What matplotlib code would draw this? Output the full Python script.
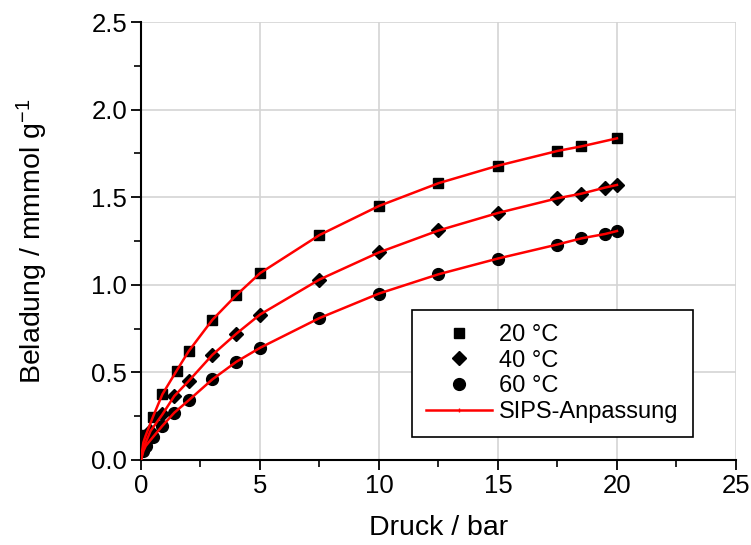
import matplotlib
matplotlib.use("Agg")
import matplotlib.pyplot as plt
from matplotlib.lines import Line2D
from matplotlib.ticker import MultipleLocator

plt.rcParams['font.family'] = ['Liberation Sans', 'DejaVu Sans']
plt.rcParams['mathtext.default'] = 'regular'

# Data
p20 = [0.1, 0.2, 0.5, 0.9, 1.5, 2.0, 3.0, 4.0, 5.0, 7.5, 10.0, 12.5, 15.0, 17.5, 18.5, 20.0]
q20 = [0.10, 0.14, 0.245, 0.375, 0.51, 0.62, 0.80, 0.94, 1.066, 1.284, 1.45, 1.58, 1.68, 1.764, 1.79, 1.836]

p40 = [0.1, 0.2, 0.4, 0.9, 1.4, 2.0, 3.0, 4.0, 5.0, 7.5, 10.0, 12.5, 15.0, 17.5, 18.5, 19.5, 20.0]
q40 = [0.07, 0.10, 0.165, 0.26, 0.365, 0.45, 0.60, 0.72, 0.83, 1.03, 1.185, 1.31, 1.41, 1.494, 1.52, 1.555, 1.57]

p60 = [0.1, 0.2, 0.5, 0.9, 1.4, 2.0, 3.0, 4.0, 5.0, 7.5, 10.0, 12.5, 15.0, 17.5, 18.5, 19.5, 20.0]
q60 = [0.05, 0.08, 0.13, 0.195, 0.27, 0.34, 0.46, 0.56, 0.64, 0.81, 0.95, 1.06, 1.15, 1.23, 1.265, 1.29, 1.307]

series_labels = ['20 °C', '40 °C', '60 °C']
fit_label = 'SIPS-Anpassung'

fig = plt.figure(figsize=(7.51, 5.45), dpi=100)
ax = fig.add_axes([0.1877, 0.156, 0.7923, 0.8036])

fs = 18.5
lfs = 20.5
for p, q in [(p20, q20), (p40, q40), (p60, q60)]:
    ax.plot([0.0] + p, [0.0] + q, color='#ff0000', lw=1.8, zorder=3)

ax.plot(p20, q20, ls='none', marker='s', ms=7.5, color='black', zorder=2)
ax.plot(p40, q40, ls='none', marker='D', ms=7.5, color='black', zorder=2)
ax.plot(p60, q60, ls='none', marker='o', ms=8.5, color='black', zorder=2)

ax.set_xlim(0, 25)
ax.set_ylim(0, 2.5)
ax.xaxis.set_major_locator(MultipleLocator(5))
ax.xaxis.set_minor_locator(MultipleLocator(2.5))
ax.yaxis.set_major_locator(MultipleLocator(0.5))
ax.yaxis.set_minor_locator(MultipleLocator(0.25))
ax.grid(True, which='major', color='#d4d4d4', lw=1.2, zorder=0)
ax.set_axisbelow(True)

for s in ['top', 'right']:
    ax.spines[s].set_visible(False)
for s in ['left', 'bottom']:
    ax.spines[s].set_linewidth(1.5)

ax.tick_params(which='major', direction='out', length=7, width=1.3, labelsize=fs, pad=3)
ax.tick_params(which='minor', direction='out', length=5, width=1.2)

ax.set_xlabel('Druck / bar', fontsize=lfs, labelpad=12)
ax.set_ylabel('Beladung / mmmol g$^{-1}$', fontsize=lfs, labelpad=30)

handles = [
    Line2D([], [], ls='none', marker='s', ms=7.5, color='black'),
    Line2D([], [], ls='none', marker='D', ms=7.5, color='black'),
    Line2D([], [], ls='none', marker='o', ms=8.5, color='black'),
    Line2D([], [], color='#ff0000', lw=1.8, marker='|', ms=3, markevery=[1]),
]
leg = ax.legend(handles, series_labels + [fit_label], loc='lower left',
                bbox_to_anchor=(0.455, 0.0525), borderaxespad=0, fontsize=17,
                frameon=True, fancybox=False, edgecolor='black', framealpha=1,
                handlelength=2.8, labelspacing=0.15, borderpad=0.6, handletextpad=0.3)
leg.get_frame().set_linewidth(1.2)

fig.savefig('out.png', dpi=100)
